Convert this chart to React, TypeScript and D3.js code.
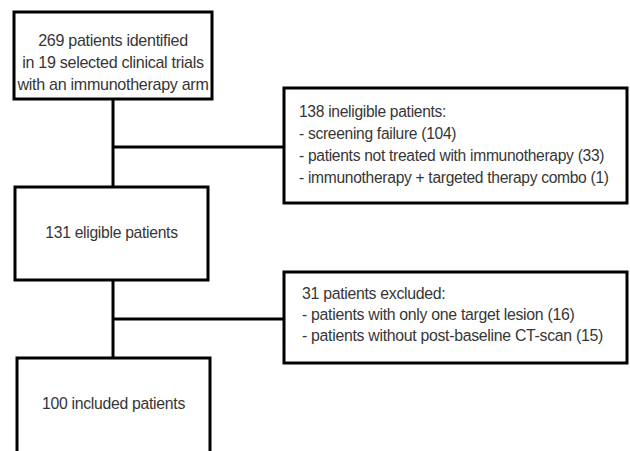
import { useEffect, useRef } from 'react';
import * as d3 from 'd3';

// Flow diagram content
const mainSteps = [
  ['269 patients identified', 'in 19 selected clinical trials', 'with an immunotherapy arm'],
  ['131 eligible patients'],
  ['100 included patients'],
];

const sideNotes = [
  [
    '138 ineligible patients:',
    '- screening failure (104)',
    '- patients not treated with immunotherapy (33)',
    '- immunotherapy + targeted therapy combo (1)',
  ],
  [
    '31 patients excluded:',
    '- patients with only one target lesion (16)',
    '- patients without post-baseline CT-scan (15)',
  ],
];

// layout of the boxes
const mainBoxes = [
  { x0: 14, x1: 212, y0: 12, y1: 99, ty: 40.5, lh: 21.7, fs: 16.1 },
  { x0: 15, x1: 208, y0: 187, y1: 280, ty: 233, lh: 22, fs: 15.7 },
  { x0: 17, x1: 210, y0: 358, y1: 470, ty: 403, lh: 22, fs: 15.8 },
];

const sideBoxes = [
  { x0: 284, x1: 627, y0: 88, y1: 203, y: 147, tx: 299, ty: 112, lh: 21.7, fs: 15.6 },
  { x0: 284, x1: 627, y0: 272, y1: 363, y: 319, tx: 302, ty: 293, lh: 21, fs: 15.85 },
];

export default function App() {
  const ref = useRef<SVGSVGElement | null>(null);

  useEffect(() => {
    if (!ref.current) return;
    const svg = d3.select(ref.current);
    svg.selectAll('*').remove();

    const width = 630;
    const height = 451;
    const spineX = 113;
    const font = 'Liberation Sans, Arial, sans-serif';

    svg.append('rect').attr('width', width).attr('height', height).attr('fill', 'white');

    const g = svg.append('g');

    // vertical spine + side connectors
    g.append('line')
      .attr('x1', spineX).attr('x2', spineX)
      .attr('y1', mainBoxes[0].y1).attr('y2', mainBoxes[2].y0)
      .attr('stroke', 'black').attr('stroke-width', 3);

    sideBoxes.forEach(b => {
      g.append('line')
        .attr('x1', spineX).attr('x2', b.x0)
        .attr('y1', b.y).attr('y2', b.y)
        .attr('stroke', 'black').attr('stroke-width', 3);
    });

    // main boxes
    mainBoxes.forEach((b, i) => {
      g.append('rect')
        .attr('x', b.x0).attr('y', b.y0)
        .attr('width', b.x1 - b.x0).attr('height', b.y1 - b.y0)
        .attr('fill', 'white').attr('stroke', 'black').attr('stroke-width', 3);

      g.append('text')
        .attr('font-family', font)
        .attr('font-size', b.fs)
        .attr('letter-spacing', -0.3)
        .attr('fill', '#363636')
        .attr('text-anchor', 'middle')
        .selectAll('tspan')
        .data(mainSteps[i])
        .join('tspan')
        .attr('x', (b.x0 + b.x1) / 2)
        .attr('y', (_, j) => b.ty + j * b.lh)
        .attr('dy', '0.35em')
        .text(d => d);
    });

    // side boxes
    sideBoxes.forEach((b, i) => {
      g.append('rect')
        .attr('x', b.x0).attr('y', b.y0)
        .attr('width', b.x1 - b.x0).attr('height', b.y1 - b.y0)
        .attr('fill', 'white').attr('stroke', 'black').attr('stroke-width', 3);

      g.append('text')
        .attr('font-family', font)
        .attr('font-size', b.fs)
        .attr('letter-spacing', -0.3)
        .attr('fill', '#363636')
        .selectAll('tspan')
        .data(sideNotes[i])
        .join('tspan')
        .attr('x', b.tx)
        .attr('y', (_, j) => b.ty + j * b.lh)
        .attr('dy', '0.35em')
        .text(d => d);
    });
  }, []);

  return (
    <svg
      ref={ref}
      width={630}
      height={451}
      style={{ position: 'absolute', left: 0, top: 0 }}
    />
  );
}
